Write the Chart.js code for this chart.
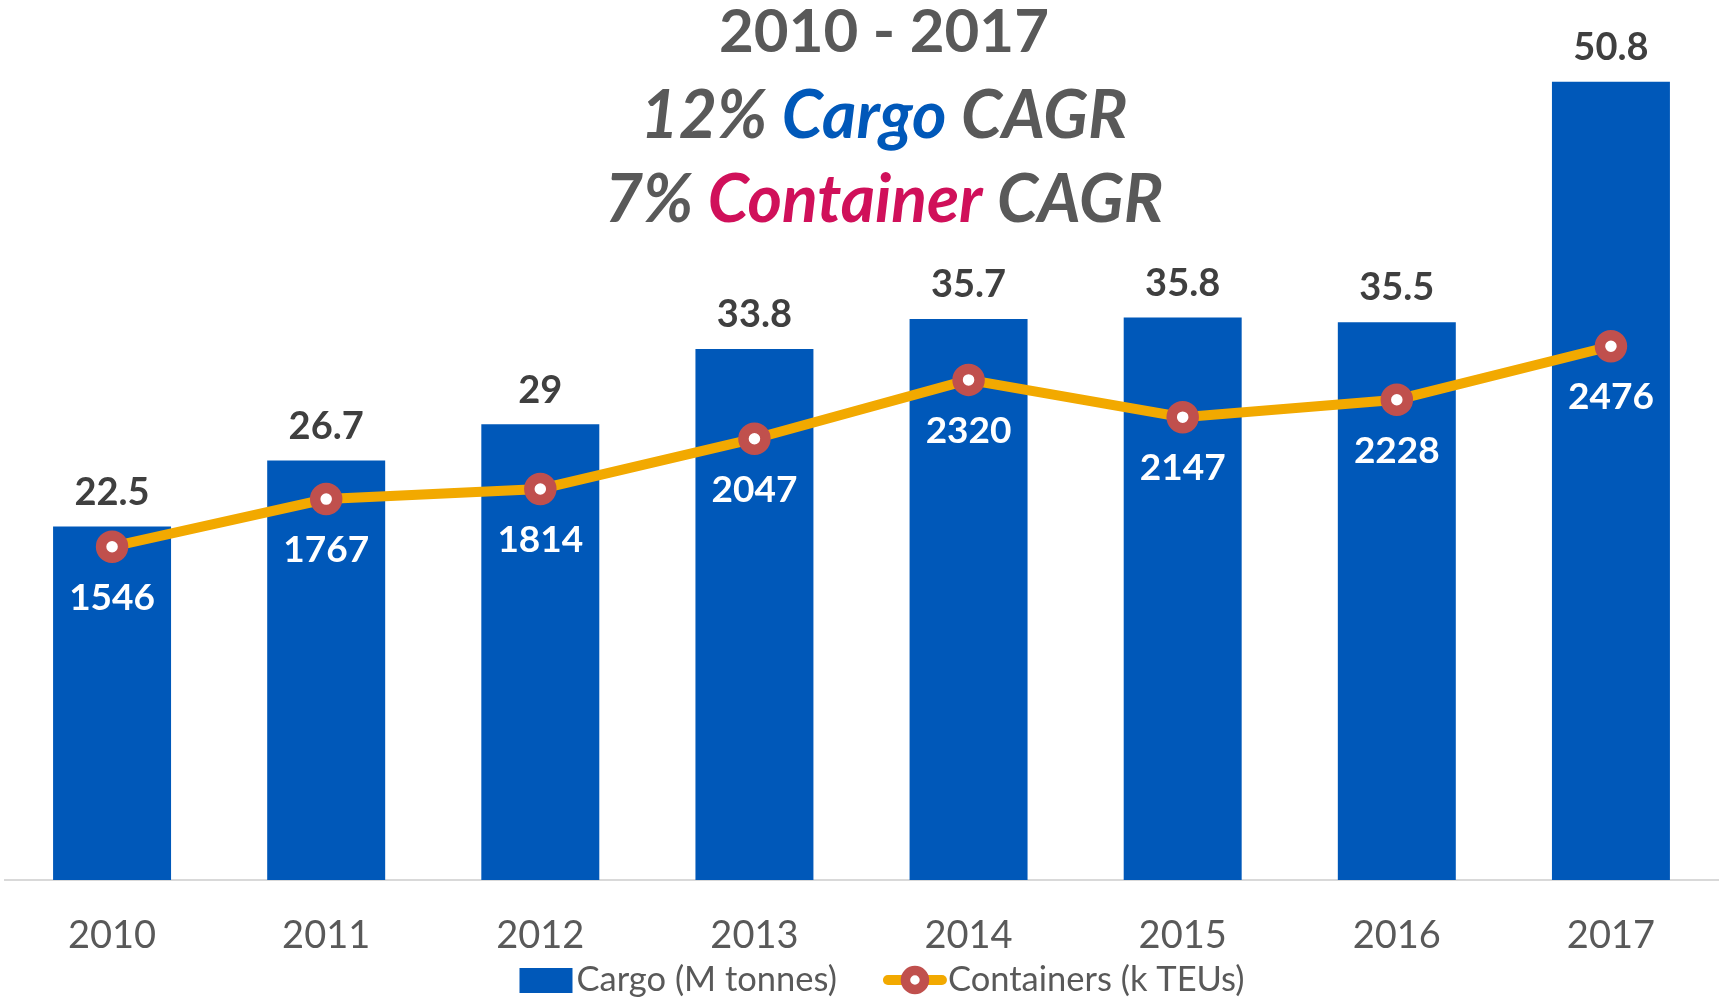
<!DOCTYPE html>
<html>
<head>
<meta charset="utf-8">
<script src="https://cdn.jsdelivr.net/npm/chart.js@4/dist/chart.umd.min.js"></script>
<style>
  html, body { margin: 0; padding: 0; background: #fff; }
  #wrap { width: 1721px; height: 1002px; position: relative; }
</style>
</head>
<body>
<div id="wrap"><canvas id="chart"></canvas></div>
<script>
// données
const years = ['2010', '2011', '2012', '2013', '2014', '2015', '2016', '2017'];
const cargo = [22.5, 26.7, 29, 33.8, 35.7, 35.8, 35.5, 50.8];          // M tonnes
const containers = [1546, 1767, 1814, 2047, 2320, 2147, 2228, 2476]; // k TEUs

const FONT = 'Lato, "Open Sans", sans-serif';
const BLUE = '#0058B9';
const ORANGE = '#F2A900';
const RED = '#C0504D';
const GREY = '#595959';
const PINK = '#D0105A';

// titre en trois lignes, couleurs mélangées
const titleLines = [
  { italic: false, size: 60, y: 33, parts: [['2010 - 2017', GREY]] },
  { italic: true, size: 66, y: 117, parts: [['12% ', GREY], ['Cargo', BLUE], [' CAGR', GREY]] },
  { italic: true, size: 66, y: 201, parts: [['7% ', GREY], ['Container', PINK], [' CAGR', GREY]] },
];

const titlePlugin = {
  id: 'title3',
  afterDraw(chart) {
    const ctx = chart.ctx;
    const cx = 884;
    ctx.save();
    ctx.textBaseline = 'middle';
    ctx.textAlign = 'left';
    titleLines.forEach(line => {
      ctx.font = (line.italic ? 'italic ' : '') + 'bold ' + line.size + 'px ' + FONT;
      const w = line.parts.reduce((s, p) => s + ctx.measureText(p[0]).width, 0);
      let x = cx - w / 2;
      line.parts.forEach(([txt, col]) => {
        ctx.fillStyle = col;
        ctx.fillText(txt, x, line.y);
        x += ctx.measureText(txt).width;
      });
    });
    ctx.restore();
  }
};

// étiquettes de valeurs (barres au-dessus, points en dessous)
const labelPlugin = {
  id: 'valueLabels',
  afterDatasetsDraw(chart) {
    const ctx = chart.ctx;
    ctx.save();
    ctx.textAlign = 'center';
    ctx.textBaseline = 'middle';
    ctx.font = 'bold 38px ' + FONT;
    ctx.fillStyle = '#3F3F3F';
    chart.getDatasetMeta(0).data.forEach((bar, i) => {
      ctx.fillText(String(cargo[i]), bar.x, bar.y - 34);
    });
    ctx.font = 'bold 37px ' + FONT;
    ctx.fillStyle = '#FFFFFF';
    chart.getDatasetMeta(1).data.forEach((pt, i) => {
      ctx.fillText(String(containers[i]), pt.x, pt.y + 51);
    });
    ctx.restore();
  }
};

// légende dessinée à la main (ligne + marqueur)
const legendPlugin = {
  id: 'customLegend',
  afterDraw(chart) {
    const ctx = chart.ctx;
    const y = 980;
    ctx.save();
    ctx.font = '34.5px ' + FONT;
    ctx.textBaseline = 'middle';
    const t1 = 'Cargo (M tonnes)', t2 = 'Containers (k TEUs)';
    const w1 = ctx.measureText(t1).width, w2 = ctx.measureText(t2).width;
    const total = 53 + 4 + w1 + 47 + 62 + 2 + w2;
    let x = 882 - total / 2;
    ctx.fillStyle = BLUE;
    ctx.fillRect(x, y - 12, 53, 25);
    x += 57;
    ctx.fillStyle = GREY;
    ctx.fillText(t1, x, y);
    x += w1 + 47;
    ctx.strokeStyle = ORANGE;
    ctx.lineWidth = 10;
    ctx.lineCap = 'round';
    ctx.beginPath();
    ctx.moveTo(x + 4, y);
    ctx.lineTo(x + 58, y);
    ctx.stroke();
    ctx.beginPath();
    ctx.arc(x + 31, y, 9.5, 0, Math.PI * 2);
    ctx.fillStyle = '#fff';
    ctx.fill();
    ctx.lineWidth = 9.5;
    ctx.strokeStyle = RED;
    ctx.stroke();
    x += 64;
    ctx.fillStyle = GREY;
    ctx.fillText(t2, x, y);
    ctx.restore();
  }
};

new Chart(document.getElementById('chart'), {
  type: 'bar',
  data: {
    labels: years,
    datasets: [
      {
        label: 'Cargo (M tonnes)',
        data: cargo,
        backgroundColor: BLUE,
        categoryPercentage: 1,
        barPercentage: 0.551,
        yAxisID: 'y',
        order: 2,
      },
      {
        type: 'line',
        label: 'Containers (k TEUs)',
        data: containers,
        borderColor: ORANGE,
        borderWidth: 10,
        tension: 0,
        pointRadius: 11,
        pointBorderWidth: 10.5,
        pointBackgroundColor: '#FFFFFF',
        pointBorderColor: RED,
        yAxisID: 'y2',
        order: 1,
      }
    ]
  },
  options: {
    animation: false,
    responsive: true,
    maintainAspectRatio: false,
    layout: { autoPadding: false, padding: { top: 63, left: 5, right: 3, bottom: 0 } },
    plugins: {
      legend: { display: false },
      title: { display: false },
      tooltip: { enabled: false }
    },
    scales: {
      x: {
        grid: { display: false, drawTicks: false },
        border: { display: true, color: '#D9D9D9', width: 2 },
        ticks: { color: GREY, padding: 33, font: { family: FONT, size: 38 } },
        afterFit: s => { s.height = 122; s.paddingLeft = 0; s.paddingRight = 0; }
      },
      y: { display: false, min: 0, max: 52 },
      y2: { display: false, min: 0, max: 3790, position: 'right' }
    }
  },
  plugins: [labelPlugin, titlePlugin, legendPlugin]
});
</script>
</body>
</html>
